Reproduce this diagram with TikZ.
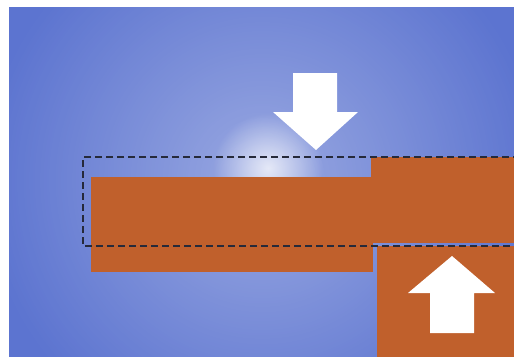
\documentclass[tikz,border=0pt]{standalone}
\usetikzlibrary{fadings}

\definecolor{bgout}{RGB}{92,116,208}
\definecolor{plate}{RGB}{192,96,44}
\definecolor{cutline}{RGB}{38,42,58}
\tikzfading[name=glowfade, inner color=transparent!0, outer color=transparent!100]

\begin{document}
\begin{tikzpicture}[
  x=1pt,
  y=-1pt,
  line join=miter,
  platefill/.style={fill=plate},
  bigarrow/.style={fill=white},
  cutbox/.style={draw=cutline, line width=1.3pt, dash pattern=on 7pt off 4pt}
]
  \useasboundingbox (0,0) rectangle (514,357);
  \clip (0,0) rectangle (514,357);
  \fill[white] (0,0) rectangle (514,357);

  % Фон с подсветкой
  \fill[bgout] (9,7) rectangle (514,357);
  \begin{scope}
    \clip (9,7) rectangle (514,357);
    \fill[white, opacity=0.38, path fading=glowfade] (262,180) circle (280);
    \fill[white, opacity=0.75, path fading=glowfade] (268,168) circle (55);
  \end{scope}

  % Вершины пластин
  \coordinate (L1) at (91,177);
  \coordinate (L2) at (373,272);
  \coordinate (R1) at (371,157);
  \coordinate (R2) at (514,243);
  \coordinate (D1) at (377,246);
  \coordinate (D2) at (514,357);

  % Пластины
  \fill[platefill] (L1) rectangle (L2);
  \fill[platefill] (R1) rectangle (R2);
  \fill[platefill] (D1) rectangle (D2);

  % Штриховая рамка
  \draw[cutbox] (520,157) -- (83,157) -- (83,246) -- (520,246);

  % Стрелка вниз
  \fill[bigarrow]
    (293,73) -- (337,73) -- (337,112) -- (358,112)
    -- (316,150) -- (273,112) -- (293,112) -- cycle;

  % Стрелка вверх
  \fill[bigarrow]
    (452,256) -- (495,293) -- (474,293) -- (474,333)
    -- (430,333) -- (430,293) -- (408,293) -- cycle;
\end{tikzpicture}
\end{document}
